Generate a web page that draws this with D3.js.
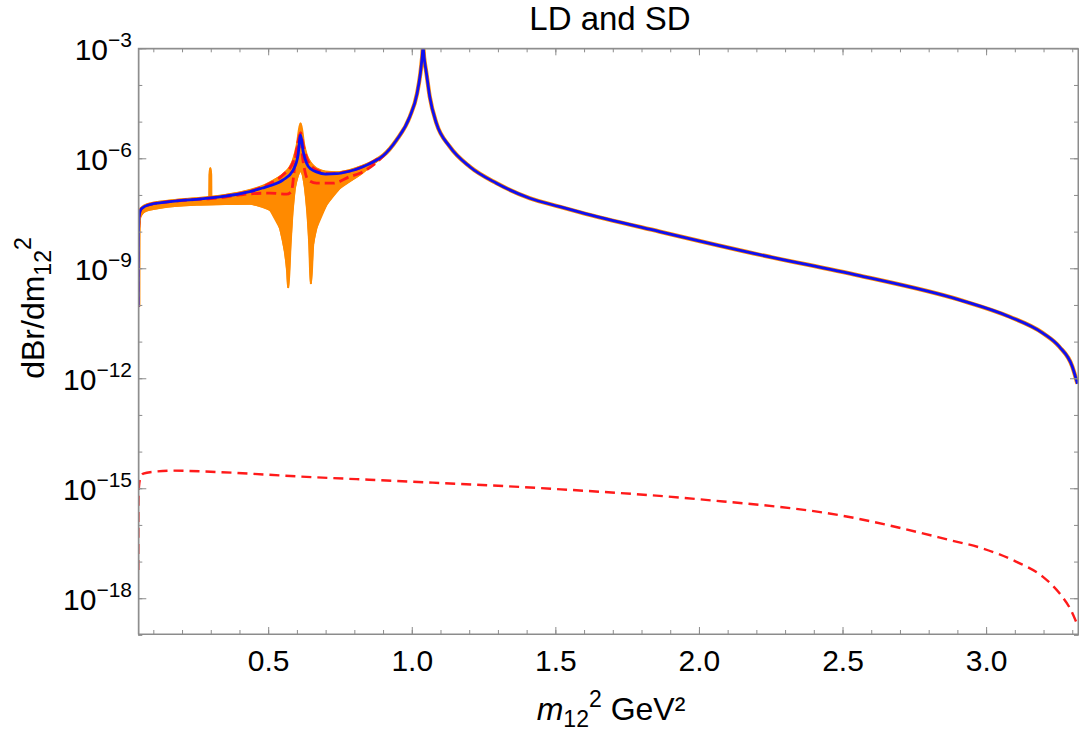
<!DOCTYPE html>
<html><head><meta charset="utf-8">
<script src="https://cdn.jsdelivr.net/npm/d3@7"></script>
<style>
body{margin:0;background:#fff}
text{font-family:"Liberation Sans",Arial,Helvetica,sans-serif;fill:#000}
</style>
</head><body>
<svg id="chart" width="1079" height="731"></svg>
<script>
// ---------- data (x in GeV^2, y given as log10 of dBr/dm12^2) ----------
const titleText = "LD and SD";
const xMajorTicks = [0.5, 1.0, 1.5, 2.0, 2.5, 3.0];
const yLabelExps = [-3, -6, -9, -12, -15, -18];

// LD+SD total (blue solid)
const blueX = [0.0477,0.0479,0.0482,0.0488,0.050,0.055,0.065,0.08,0.10,0.15,0.20,0.25,0.30,0.35,0.40,0.436,0.48,0.506,0.552,0.587,0.604,0.6127,0.622,0.634,0.65,0.668,0.70,0.738,0.78,0.83,0.87,0.90,0.947,0.993,1.0185,1.030,1.036,1.0394,1.043,1.051,1.0626,1.086,1.132,1.202,1.295,1.411,1.515,1.585,1.863,2.211,2.559,2.907,3.081,3.196,3.255,3.30,3.318];
const blueLog = [-10.05,-9.0,-8.3,-7.9,-7.62,-7.42,-7.34,-7.28,-7.24,-7.19,-7.15,-7.12,-7.08,-7.03,-6.97,-6.91,-6.81,-6.75,-6.59,-6.32,-5.91,-5.36,-5.82,-6.14,-6.30,-6.37,-6.43,-6.42,-6.36,-6.23,-6.08,-5.93,-5.50,-4.87,-4.23,-3.68,-3.25,-2.95,-3.25,-3.68,-4.32,-5.05,-5.68,-6.23,-6.68,-7.09,-7.32,-7.47,-8.00,-8.63,-9.20,-9.86,-10.32,-10.76,-11.14,-11.68,-12.15];

// family of phase curves (orange band): upper and lower envelope
const bandUpX = [0.0477,0.0482,0.050,0.055,0.08,0.15,0.25,0.2955,0.2962,0.2985,0.3008,0.3015,0.35,0.40,0.436,0.48,0.506,0.552,0.575,0.587,0.600,0.6127,0.625,0.634,0.65,0.668,0.70,0.738,0.78,0.83,0.87,0.90,0.92];
const bandUpLog = [-10.05,-8.3,-7.58,-7.40,-7.26,-7.17,-7.10,-7.07,-6.45,-6.27,-6.45,-7.06,-7.01,-6.94,-6.87,-6.76,-6.66,-6.44,-6.25,-6.05,-5.65,-5.05,-5.65,-5.92,-6.15,-6.28,-6.37,-6.39,-6.34,-6.21,-6.07,-5.92,-5.75];
const bandLoX = [0.0477,0.0485,0.050,0.055,0.065,0.08,0.15,0.25,0.35,0.436,0.47,0.506,0.541,0.558,0.566,0.5690,0.5705,0.578,0.585,0.593,0.6045,0.6125,0.620,0.628,0.636,0.643,0.6478,0.6494,0.6567,0.668,0.703,0.749,0.819,0.87,0.90,0.92];
const bandLoLog = [-10.05,-8.4,-7.9,-7.6,-7.48,-7.42,-7.32,-7.27,-7.25,-7.24,-7.30,-7.41,-7.91,-8.55,-9.1,-9.52,-9.52,-8.36,-7.46,-6.82,-6.45,-6.33,-6.45,-6.82,-7.46,-8.36,-9.41,-9.41,-8.36,-7.91,-7.27,-6.82,-6.45,-6.13,-5.94,-5.76];

// two red dashed LD curves
const redAX = [0.0477,0.0482,0.050,0.055,0.08,0.15,0.25,0.35,0.436,0.506,0.552,0.587,0.6044,0.6127,0.6218,0.6392,0.6684,0.7147,0.78,0.83,0.90];
const redALog = [-10.05,-8.3,-7.62,-7.42,-7.28,-7.19,-7.12,-7.03,-6.90,-6.69,-6.45,-6.10,-5.64,-5.30,-5.64,-6.09,-6.32,-6.42,-6.36,-6.23,-5.93];
const redBX = [0.0477,0.0482,0.050,0.055,0.08,0.15,0.25,0.30,0.35,0.402,0.436,0.506,0.5632,0.581,0.589,0.598,0.6105,0.6127,0.619,0.627,0.6392,0.6684,0.7263,0.784,0.819,0.87,0.92];
const redBLog = [-10.05,-8.3,-7.62,-7.42,-7.28,-7.19,-7.12,-7.10,-7.06,-7.00,-6.97,-6.95,-6.98,-6.91,-6.45,-5.82,-5.36,-5.32,-5.91,-6.32,-6.59,-6.68,-6.68,-6.50,-6.41,-6.16,-5.78];

// SD only (red dashed, bottom)
const sdX = [0.0477,0.0480,0.0485,0.050,0.055,0.065,0.10,0.17,0.30,0.61,1.0,1.5,2.0,2.5,2.872,2.988,3.104,3.197,3.255,3.295,3.318];
const sdLog = [-17.23,-16.0,-15.3,-14.96,-14.72,-14.60,-14.55,-14.52,-14.55,-14.68,-14.82,-15.02,-15.30,-15.75,-16.41,-16.64,-17.0,-17.41,-17.86,-18.32,-18.73];

// ---------- layout ----------
const L = 138.3, R = 1078, T = 48.3, B = 634.9;
const svg = d3.select("#chart");
const x = d3.scaleLinear().domain([0.0477, 3.32]).range([L, R]);
const y = d3.scaleLog().domain([1e-19, 1e-3]).range([B, T]);
const pts = (xs, ls) => xs.map((v, i) => [v, Math.pow(10, ls[i])]);

svg.append("defs").append("clipPath").attr("id", "clip")
  .append("rect").attr("x", L).attr("y", T).attr("width", R - L).attr("height", 634 - T);

const plot = svg.append("g").attr("clip-path", "url(#clip)");
const line = d3.line().x(d => x(d[0])).y(d => y(d[1])).curve(d3.curveMonotoneX);
const lineLin = d3.line().x(d => x(d[0])).y(d => y(d[1]));

const ORANGE = "#ff8a00", RED = "#ff1a1a", BLUE = "#1010f0";

// orange band
const up = pts(bandUpX, bandUpLog), lo = pts(bandLoX, bandLoLog);
plot.append("path").attr("d", lineLin(up.concat(lo.slice().reverse())) + "Z")
  .attr("fill", ORANGE).attr("stroke", ORANGE).attr("stroke-width", 1.5);
plot.append("path").attr("d", line(up)).attr("fill", "none").attr("stroke", ORANGE).attr("stroke-width", 2.5);
plot.append("path").attr("d", line(lo)).attr("fill", "none").attr("stroke", ORANGE).attr("stroke-width", 2);
// orange family coinciding with total outside resonance region (fringe)
plot.append("path").attr("d", line(pts(blueX, blueLog))).attr("fill", "none").attr("stroke", ORANGE).attr("stroke-width", 4.2);

// red dashed LD curves
[[redAX, redALog], [redBX, redBLog]].forEach(([xs, ls]) => {
  plot.append("path").attr("d", line(pts(xs, ls))).attr("fill", "none")
    .attr("stroke", RED).attr("stroke-width", 2.8).attr("stroke-dasharray", "10,5");
});
// SD red dashed
plot.append("path").attr("d", line(pts(sdX, sdLog))).attr("fill", "none")
  .attr("stroke", RED).attr("stroke-width", 2.4).attr("stroke-dasharray", "10,6");
// blue total
plot.append("path").attr("d", line(pts(blueX, blueLog))).attr("fill", "none")
  .attr("stroke", BLUE).attr("stroke-width", 2.8);

// ---------- frame & ticks ----------
const FRAME = "#8c8c8c";
const xMinor = x.ticks(33).filter(v => v > 0.05);
const yAll = d3.range(-19, -2).map(e => Math.pow(10, e));
const yMajor = yLabelExps.map(e => Math.pow(10, e));

function styleAxis(g) {
  g.select(".domain").attr("stroke", FRAME);
  g.selectAll(".tick line").attr("stroke", FRAME);
}
// bottom
svg.append("g").attr("transform", `translate(0,${634})`)
  .call(d3.axisBottom(x).tickValues(xMinor).tickSize(-4).tickSizeOuter(0).tickFormat(""))
  .call(styleAxis);
const xb = svg.append("g").attr("transform", `translate(0,${634})`)
  .call(d3.axisBottom(x).tickValues(xMajorTicks).tickSize(-7).tickSizeOuter(0).tickPadding(16).tickFormat(d3.format(".1f")))
  .call(styleAxis);
xb.selectAll("text").attr("font-size", 30).attr("fill", "#000").style("font-family", "Liberation Sans, Arial, sans-serif");
// top
svg.append("g").attr("transform", `translate(0,${T})`)
  .call(d3.axisTop(x).tickValues(xMinor).tickSize(-4).tickSizeOuter(0).tickFormat(""))
  .call(styleAxis);
svg.append("g").attr("transform", `translate(0,${T})`)
  .call(d3.axisTop(x).tickValues(xMajorTicks).tickSize(-7).tickSizeOuter(0).tickFormat(""))
  .call(styleAxis);
// left
const yl = d3.scaleLog().domain(y.domain()).range([B, T]);
svg.append("g").attr("transform", `translate(${L},0)`)
  .call(d3.axisLeft(yl).tickValues(yAll).tickSize(-4).tickSizeOuter(0).tickFormat(""))
  .call(styleAxis);
svg.append("g").attr("transform", `translate(${L},0)`)
  .call(d3.axisLeft(yl).tickValues(yMajor).tickSize(-8).tickSizeOuter(0).tickFormat(""))
  .call(styleAxis);
// right
svg.append("g").attr("transform", `translate(${R},0)`)
  .call(d3.axisRight(yl).tickValues(yAll).tickSize(-4).tickSizeOuter(0).tickFormat(""))
  .call(styleAxis);
svg.append("g").attr("transform", `translate(${R},0)`)
  .call(d3.axisRight(yl).tickValues(yMajor).tickSize(-8).tickSizeOuter(0).tickFormat(""))
  .call(styleAxis);
svg.append("rect").attr("x", L).attr("y", T).attr("width", R - L).attr("height", 634 - T)
  .attr("fill", "none").attr("stroke", FRAME).attr("stroke-width", 1);

// y tick labels 10^k
yLabelExps.forEach(e => {
  const t = svg.append("text").attr("x", 132).attr("y", y(Math.pow(10, e)) + 11.7)
    .attr("text-anchor", "end");
  t.append("tspan").attr("font-size", 30).text("10");
  t.append("tspan").attr("font-size", 21).attr("dy", -13).text("\u2212" + Math.abs(e));
});

// title
svg.append("text").attr("x", 610).attr("y", 30).attr("text-anchor", "middle")
  .attr("font-size", 33).text(titleText);

// x label
const xl = svg.append("text").attr("x", 611).attr("y", 720).attr("text-anchor", "middle").attr("font-size", 32);
xl.append("tspan").attr("font-style", "italic").text("m");
xl.append("tspan").attr("font-size", 23).attr("dy", 7).text("12");
xl.append("tspan").attr("font-size", 23).attr("dy", -20).text("2");
xl.append("tspan").attr("dy", 13).text(" GeV\u00b2");

// y label
const ylab = svg.append("text").attr("transform", "translate(44,308) rotate(-90)")
  .attr("text-anchor", "middle").attr("font-size", 32);
ylab.append("tspan").text("dBr/dm");
ylab.append("tspan").attr("font-size", 23).attr("dy", 7).text("12");
ylab.append("tspan").attr("font-size", 23).attr("dy", -20).text("2");
</script>
</body></html>
